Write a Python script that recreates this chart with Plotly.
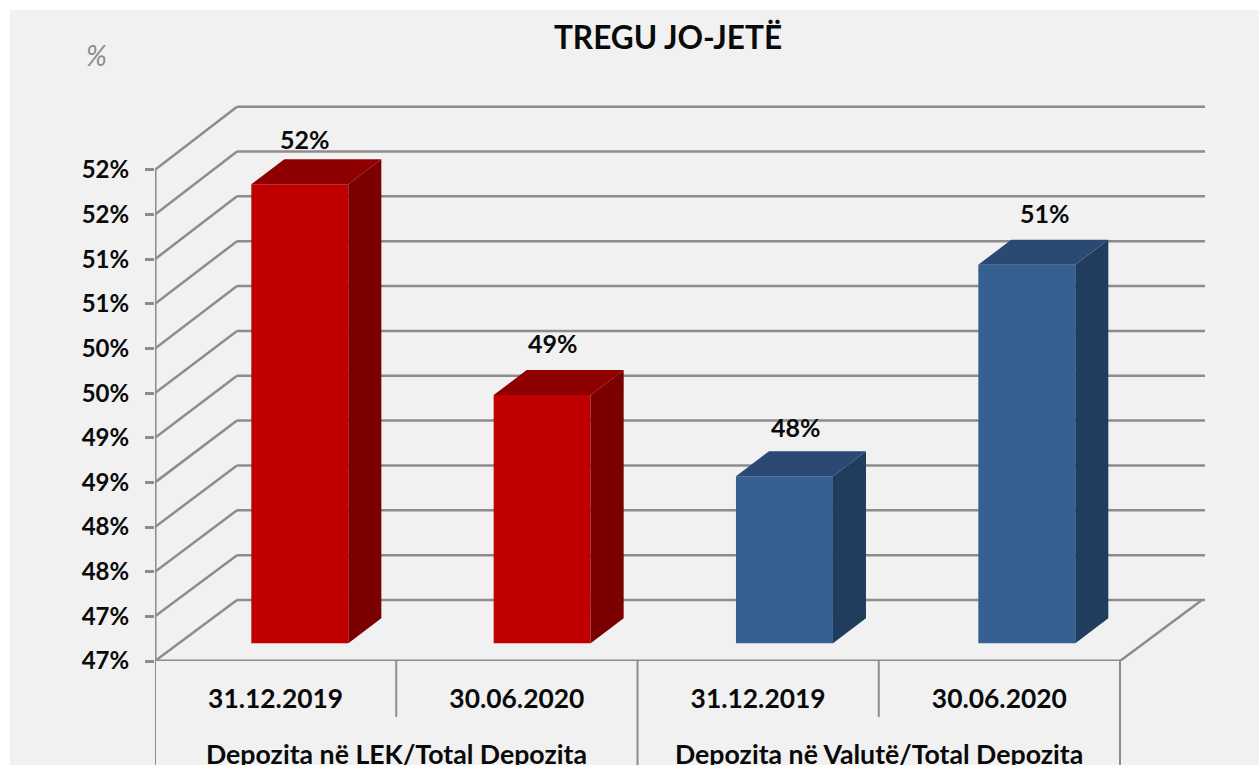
import plotly.graph_objects as go

# ---- data ----
TITLE = "TREGU JO-JETË"
UNIT = "%"
DATES = ["31.12.2019", "30.06.2020", "31.12.2019", "30.06.2020"]
GROUPS = ["Depozita në LEK/Total Depozita", "Depozita në Valutë/Total Depozita"]
VALUES = [51.64, 49.28, 48.37, 50.74]
VALUE_LABELS = ["52%", "49%", "48%", "51%"]
Y_TICKS = [46.5, 47.0, 47.5, 48.0, 48.5, 49.0, 49.5, 50.0, 50.5, 51.0, 51.5, 52.0]
Y_LABELS = ["47%", "47%", "48%", "48%", "49%", "49%", "50%", "50%", "51%", "51%", "52%", "52%"]

# ---- styles and geometry ----
W, H = 1259, 765
L, R, T, B = 155, 1205, 101, 661          # plot box in pixels
X_UNIT = 241.25                           # pixels per category slot
Y_UNIT = 89.3                             # pixels per value unit
X0, X1 = -0.5, -0.5 + (R - L) / X_UNIT
Y0, Y1 = Y_TICKS[0], Y_TICKS[0] + (B - T) / Y_UNIT
DX, DY = 82 / X_UNIT, 61 / Y_UNIT         # oblique shift of the back wall
BACK_SCALE = 1.0045                       # back wall is very slightly taller
FRONT_RIGHT = 3.5

BAR_W = 97 / X_UNIT
BAR_STEP = 242.33 / X_UNIT
BAR_X0 = 24.2 / X_UNIT
BAR_LIFT = 17.7 / Y_UNIT
SIDE_DX, SIDE_DY = 33 / X_UNIT, 25 / Y_UNIT

FRONT = ["#C00000", "#C00000", "#376092", "#376092"]
SIDE = ["#7B0000", "#7B0000", "#203D5E", "#203D5E"]
TOP = ["#8E0000", "#8E0000", "#2A4A74", "#2A4A74"]
LABEL_SHIFT = [(5.5, 45), (10.5, 52), (11.5, 49), (18.5, 52)]

GRID = "#8C8C8C"
PANEL = "#F1F1F1"
FONT = "Lato"
TEXT = "#0A0A0A"


def px(y_pixel):
    """Pixel row to paper fraction of the plot box."""
    return (B - y_pixel) / (B - T)


def qx(x_pixel):
    return (x_pixel - L) / (R - L)


def line(x0, y0, x1, y1, width=2.5, xref="x", yref="y"):
    return dict(type="line", xref=xref, yref=yref, x0=x0, y0=y0, x1=x1, y1=y1,
                layer="below", line=dict(color=GRID, width=width))


shapes = [dict(type="rect", xref="paper", yref="paper", x0=qx(10), x1=qx(W + 5),
               y0=px(H + 5), y1=px(10), layer="below", line_width=0, fillcolor=PANEL)]

# side and back walls
for v in Y_TICKS:
    back = Y0 + DY + (v - Y0) * BACK_SCALE
    shapes.append(line(X0, v, X0 + DX, back))
    shapes.append(line(X0 + DX, back, X1, back))

# floor edges and front axis
shapes.append(line(X0, Y0, FRONT_RIGHT, Y0, width=3))
shapes.append(line(FRONT_RIGHT, Y0, FRONT_RIGHT + DX, Y0 + DY))
shapes.append(line(X0, Y0, X0, Y_TICKS[-1], width=3))

# category dividers under the floor
for x in [X0, 1.5, FRONT_RIGHT]:
    shapes.append(line(x, px(B), x, px(H + 5), xref="x", yref="paper", width=2))
for x in [0.5, 2.5]:
    shapes.append(line(x, px(B), x, px(717), xref="x", yref="paper", width=2))

bar_x = [BAR_X0 + i * BAR_STEP for i in range(len(VALUES))]
bar_base = Y0 + BAR_LIFT
tops = [v + BAR_LIFT for v in VALUES]

fig = go.Figure()
fig.add_trace(go.Bar(x=bar_x, y=[t - bar_base for t in tops], base=bar_base,
                     width=BAR_W, marker=dict(color=FRONT, line_width=0),
                     hoverinfo="skip", showlegend=False))

for i, xc in enumerate(bar_x):
    xl, xr = xc - BAR_W / 2, xc + BAR_W / 2
    top = tops[i]
    fig.add_trace(go.Scatter(
        x=[xr, xr + SIDE_DX, xr + SIDE_DX, xr, xr],
        y=[bar_base, bar_base + SIDE_DY, top + SIDE_DY, top, bar_base],
        mode="lines", fill="toself", fillcolor=SIDE[i], line=dict(width=0),
        hoverinfo="skip", showlegend=False))
    fig.add_trace(go.Scatter(
        x=[xl, xr, xr + SIDE_DX, xl + SIDE_DX, xl],
        y=[top, top, top + SIDE_DY, top + SIDE_DY, top],
        mode="lines", fill="toself", fillcolor=TOP[i], line=dict(width=0),
        hoverinfo="skip", showlegend=False))

annotations = []
for xc, top, text, (sx, sy) in zip(bar_x, tops, VALUE_LABELS, LABEL_SHIFT):
    annotations.append(dict(x=xc, y=top, xref="x", yref="y", text=text, showarrow=False,
                            xshift=sx, yshift=sy, yanchor="middle",
                            font=dict(family=FONT, size=25, color=TEXT, weight="bold")))
for x, text in zip([0.5, 2.5], GROUPS):
    annotations.append(dict(x=x, y=px(754), xref="x", yref="paper", text=text, showarrow=False,
                            yanchor="middle", xanchor="center",
                            font=dict(family=FONT, size=26.7, color=TEXT, weight="bold")))
annotations.append(dict(x=qx(96), y=px(55), xref="paper", yref="paper", text="<i>" + UNIT + "</i>",
                        showarrow=False, yanchor="middle", xanchor="center",
                        font=dict(family=FONT, size=28, color="#8C8C8C")))

fig.update_layout(
    width=W, height=H, autosize=False,
    margin=dict(l=L, r=W - R, t=T, b=H - B, pad=0),
    paper_bgcolor="white", plot_bgcolor="rgba(0,0,0,0)",
    showlegend=False, shapes=shapes, annotations=annotations,
    title=dict(text=TITLE, x=qx(668), xref="paper", xanchor="center",
               y=1 - 38 / H, yref="container", yanchor="middle",
               font=dict(family=FONT, size=31.6, color=TEXT, weight="bold")),
    xaxis=dict(range=[X0, X1], showgrid=False, zeroline=False, showline=False,
               tickmode="array", tickvals=list(range(len(DATES))), ticktext=DATES,
               ticks="", ticklabelstandoff=20,
               tickfont=dict(family=FONT, size=26.4, color=TEXT, weight="bold")),
    yaxis=dict(range=[Y0, Y1], showgrid=False, zeroline=False, showline=False,
               tickmode="array", tickvals=Y_TICKS, ticktext=Y_LABELS,
               ticks="outside", ticklen=9, tickwidth=2.5, tickcolor=GRID,
               ticklabelstandoff=11,
               tickfont=dict(family=FONT, size=24, color=TEXT, weight="bold")),
)

fig.write_html("out.html", config={"displayModeBar": False},
               post_script="document.body.style.margin='0';document.body.style.overflow='hidden';")
